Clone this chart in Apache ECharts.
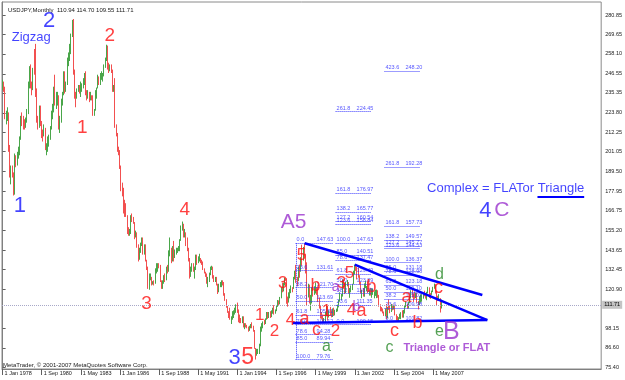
<!DOCTYPE html>
<html><head><meta charset="utf-8">
<script src="https://cdn.jsdelivr.net/npm/echarts@6/dist/echarts.min.js"></script>
<style>html,body{margin:0;padding:0;background:#fff}#c{width:625px;height:380px}</style>
</head><body><div id="c"></div>
<script>
// ---- monthly USDJPY, Jan 1978 .. Dec 2007 (one row per year) ----
const firstOpen = 240.5;
const closes = [
241.0,238.5,222.5,223.0,223.5,204.0,188.5,190.0,189.0,177.0,197.0,195.0,
200.5,201.5,209.5,221.5,219.5,217.5,217.0,220.5,224.0,240.0,249.5,240.0,
238.5,249.5,249.0,236.5,220.0,218.0,227.5,218.0,212.0,211.0,215.0,203.0,
205.5,206.0,210.0,215.0,224.5,225.0,238.0,231.0,231.5,233.0,215.5,219.5,
229.5,235.5,247.0,237.0,240.5,254.5,258.0,259.5,269.5,276.0,248.0,235.0,
233.5,237.5,239.5,237.5,239.0,240.5,241.5,246.5,236.5,234.0,235.0,232.0,
234.0,233.5,225.0,225.5,236.0,238.0,245.0,242.5,246.0,246.0,246.0,251.5,
255.0,259.5,251.5,251.0,251.5,248.5,237.0,237.5,216.5,211.5,202.0,200.5,
192.0,180.5,179.5,168.0,167.0,164.5,154.5,154.0,154.0,163.0,162.5,160.0,
153.5,153.5,146.5,140.5,144.5,147.0,150.0,142.0,146.5,138.0,133.0,122.0,
127.5,128.5,124.5,125.0,124.5,132.5,133.0,135.0,134.5,125.5,121.5,125.0,
128.5,127.0,133.0,132.5,143.0,144.0,137.5,145.0,139.0,142.5,143.5,143.5,
145.0,149.5,157.5,159.0,152.0,153.0,147.0,144.5,138.0,129.0,133.0,135.5,
131.5,133.0,140.5,136.5,138.0,138.5,137.0,136.5,132.5,130.5,130.0,125.0,
127.0,130.0,133.0,133.5,128.5,125.5,127.0,123.5,119.5,123.5,124.0,125.0,
124.5,118.0,115.0,111.0,107.0,106.5,104.5,104.5,106.0,108.0,109.0,111.8,
109.0,104.0,102.5,102.0,104.5,99.0,100.0,99.8,98.5,96.8,98.7,99.7,
99.5,96.8,86.5,84.0,84.5,84.8,88.2,97.3,99.8,101.8,101.6,103.4,
106.9,104.7,107.1,104.5,108.3,109.8,106.8,108.8,111.3,114.0,113.9,115.9,
121.2,120.4,124.0,126.8,116.1,114.6,118.4,120.7,120.9,120.4,127.6,130.4,
127.0,126.0,133.1,132.2,139.1,138.2,144.3,141.4,135.9,116.0,123.2,113.5,
116.2,119.1,119.0,119.4,121.3,121.1,114.6,110.2,106.0,104.3,102.1,102.2,
107.3,110.3,105.5,108.2,107.7,106.2,109.2,106.6,108.2,108.8,111.3,114.4,
116.3,117.3,126.3,123.8,118.8,124.6,125.0,118.8,119.4,122.4,123.9,131.0,
134.7,133.7,132.7,128.5,124.3,119.5,119.8,118.4,121.9,122.4,122.6,118.8,
119.9,117.7,118.2,118.9,119.4,119.8,120.1,116.8,111.5,109.9,109.5,107.2,
105.9,109.1,104.2,110.4,109.6,108.7,111.5,109.9,110.1,105.8,103.1,102.6,
103.7,104.6,107.2,105.0,108.3,110.9,112.5,111.9,113.5,116.4,119.9,117.8,
117.2,115.8,117.8,113.9,112.5,114.4,114.6,117.4,118.1,117.0,115.8,119.0,
120.7,118.5,117.8,119.6,121.7,123.1,118.6,115.8,114.8,115.3,110.94,111.71];
const highs = [
243,242,239,225,227,224,205,193,193,189,200,199,
201,204,210,222,224,222,220,221,226,242,251,252,
242,250,261,264,238,222,228,228,219,214,217,215,
206,210,211,216,225,229,239,246,236,236,234,222,
232,236,248,248,242,256,259,264,270,278,278.5,249,
236,238,240,240,242,241,244,247,248,237,237,236,
236,234,234,226,237,238.5,246,245,247,248,247,252,
256,263.5,263,253,252,252,249,240,244,217,212,204,
202,193,183,180,173,171,164,157,156,164,165,163,
160,155,154,147,145,148,151,151,147,147,138,134,
130,130,128,125.5,126,133,136,136,136,135,126,126,
129,130,134,135,143.5,151,145,146,149,144,145,145,
146,150,158,160.3,159,156,154,151,145,139,134,136,
136,134,141,141,140,141.5,139,138,137,133,131,130,
128,130.5,134,134.5,134,129,128,128,124,124,125,126,
126,125,118.5,115,111,108,110,105,108,108.5,110,112,
113,109,106,104,105,105,101,101,100,99,99.5,100.5,
101.5,99.5,97,86.5,86,86,89,99,101,102,103,103.8,
107.5,107.5,107.5,108,108.5,110,111.5,109,111.6,114.5,114.3,116.3,
122,124.6,124.5,127.5,127.2,116.5,119,121,123,122,128,131.6,
135,128,134,135.2,139.5,146.8,145.5,147.63,141.5,136.5,124,123.5,
117.5,122,123,122.5,124.8,122,122.5,116,111.5,107.5,106,104,
107.6,111.8,111,108.5,110.5,108.5,109.6,110,108.8,109.5,111.8,114.6,
119,118,126.5,126.6,124.5,125,126.2,125,121.5,123,124,131.6,
135.15,134.7,133.8,133.5,129,125,120.5,121.5,124.2,125.7,122.7,125.5,
120.3,121.6,121.3,121.2,119.6,120.5,120.6,120.2,117.5,112,110.4,109.6,
107.8,109.6,112.2,110.5,114.9,111.2,112.2,111.9,111.4,111.8,106.2,105.1,
104.5,106.5,107.4,108.5,108.7,111.2,113.7,112.3,113.6,116.5,120.2,121.4,
118.3,119.5,118.7,118.7,114,116.5,117.8,117.9,118.5,119.9,118.6,119.3,
122.2,121.9,118.5,120,122.2,124.1,123.7,119.8,117,117.9,115.6,114.7];
const lows = [
237,236,220,217,219,201,186,182,186,175.5,176,192,
193,197,199,208,216,214,214,215,218,223,238,238,
234,237,246,233,218,214,215,216,209,207,210,202,
199,201,204,208,214,220,224,228,226,228,214,212,
218,228,234,235,236,240,251,254,258,268,246,232,
227,232,236,235,233,236,238,240,234,231,232,230,
231,231,222,222,225,232,238,240,240,243,242,245,
250,254,249,247,248,247,236,236,215,210,201,199,
191,178,175,165,163,163,153,152,152,153,160,159,
150,151,145,137,138,142,146,141,141,137,132,121,
120.5,126,123,123.5,123,124,130,131,133,125,121,121,
124,125,126,130,131,140,136,137,137,139,141,142,
143,143,149,155,151,151,146,143,137,127,128,131,
131,127,132,135,136,137,136,135,132,130,128,124,
122,125,129,132,127,125,125,123,118,119,122,122,
123,117,114,110,107,104,103,100.5,103,104,106,107,
107,101.5,101,101,101,98.5,97.5,98.5,98,96,96.5,98,
98,96,86,79.75,82,83,83,87.5,96,98,100,100.5,
103,103.5,104,104,104.5,106.5,106,106.5,108,110.5,111,112,
115.5,119,119.5,123,112.3,110.6,113,115.5,118.5,119,121,126.5,
124.5,122.5,125.5,127.5,131,134.5,137.5,140.5,130,111.5,116,112.5,
108.3,112.5,116.5,117.5,118.3,117.5,113.3,109.5,103.7,103.5,101.25,101.4,
101.5,105,102.5,104.3,105.4,104.4,104.6,105.2,105.5,107.5,107.8,110.2,
113.5,114.5,116.5,121,118,118.5,122.5,118.3,115.8,119,120.3,123.7,
129.5,131.5,126.5,127.5,123.5,118.4,115.6,116.5,116.4,121.4,119.6,118.5,
117.1,117.1,115.8,117.5,115.5,116.9,115.6,115.8,110.6,107.9,107.8,106.7,
105.2,104.9,103.4,103.8,108.7,106.8,107.5,108.5,108.9,105.5,102.5,101.8,
101.7,103.5,103.3,104.2,104.2,106.6,110.2,109.4,109.5,112.8,115.4,115.9,
113.4,115.2,115.6,112.9,109,111.5,113,113.5,115.3,116.7,115.3,114.4,
118.4,115.8,115.2,117.5,119.1,121.1,118.3,111.6,113.9,113.9,107.2,109.55];

// ---- axis ticks ----
const xTickIdx = [0,32,64,96,128,160,192,224,256,288,320,352];
const xTickLabels = ['1 Jan 1978','1 Sep 1980','1 May 1983','1 Jan 1986','1 Sep 1988','1 May 1991','1 Jan 1994','1 Sep 1996','1 May 1999','1 Jan 2002','1 Sep 2004','1 May 2007'];
const yTicks = [280.85,269.65,258.10,246.55,235.35,223.80,212.25,201.05,189.50,177.95,166.75,155.20,143.65,132.45,120.90,98.15,86.60,75.40];
const lastPrice = 111.71;
const titleText = 'USDJPY,Monthly  110.94 114.70 109.55 111.71';
const footerText = 'MetaTrader, \u00a9 2001-2007 MetaQuotes Software Corp.';

// ---- Fibonacci tools: level %, price, and month-index span ----
const fib1Pct = ['0.0','23.6','38.2','50.0','61.8','70.0','78.6','85.0','100.0'];
const fib1Val = [147.63,131.61,121.70,113.69,105.61,100.12,94.28,89.94,79.76];
const fib1Span = [239.6,269.8];
const fib2Pct = ['0.0','23.6','38.2','50.0','61.8','78.6','85.0','100.0','123.6','127.2','138.2','161.8','261.8'];
const fib2Val = [100.15,111.35,118.29,123.89,129.49,137.47,140.51,147.63,158.84,160.54,165.77,176.97,224.45];
const fib2Span = [272.3,301.7];
const fib3Pct = ['0.0','23.6','38.2','50.0','61.8','78.6','85.0','100.0','123.6','127.2','138.2','161.8','261.8','423.6'];
const fib3Val = [101.82,109.98,115.02,119.10,123.18,128.98,131.18,136.37,144.53,145.77,149.57,157.73,192.28,248.20];
const fib3Span = [312.3,341.7];

// ---- trend lines (month index, price) ----
const trendUpper = [[247,147.63],[392.3,117.4]];
const trendMid = [[288,135.15],[396.4,102.8]];
const trendLower = [[237.1,101.1],[396.4,102.8]];
const underlineTriangle = [[437.4,174.6],[475.6,174.6]];

// ---- wave labels: [text, month index, price] ----
const blueBig = [['2',38.1,277.5],['1',14.2,169.6],['3',189.8,80.6],['4',394.8,166.7]];
const blueText = [['Zigzag',23.4,267.7],['Complex = FLATor Triangle',411.4,179.9]];
const redBig = [['2',87.7,268.6],['1',65.2,214.9],['4',148.9,167.0],['3',117.7,112.2]];
const redBottom = [['5',200.4,80.6]];
const redDigits = [['1',210.2,105.7],['2',222.4,96.4],['3',229,124.4],['4',235.5,102.8],['5',244.5,140.8],
  ['1',264.9,108.1],['2',272.3,96.4],['3',277.2,124.4],['5',283.7,130.3],['4',285.3,108.7]];
const redLetters = [['a',246.9,103.4],['b',255.9,122.7],['c',256.7,97.0],['a',293.5,108.1],['b',301.7,122.1],
  ['c',320.4,96.4],['a',330.2,116.3],['b',339.3,101.1],['c',356.4,121.5]];
const greenLetters = [['a',264.9,87.1],['c',316.4,86.5],['d',357.2,129.1],['e',357.2,95.8]];
const purpleSmall = [['a',272.3,122.1],['b',289.4,110.4]];
const purpleBig = [['A5',238,159.7],['C',408.2,166.7]];
const purpleB = [['B',367,95.8]];
const purpleText = [['Triangle or FLAT',363.3,86.8]];

// ---- build ----
const FONT = 'Liberation Sans';
const candles = closes.map((c,k)=>[k, k===0?firstOpen:closes[k-1], c, lows[k], highs[k]]);

function labelSeries(items, color, size, weight){
  return {type:'scatter', symbolSize:1, itemStyle:{color:'rgba(0,0,0,0)'}, silent:true, z:6,
    data: items.map(t=>({value:[t[1],t[2]], name:t[0]})),
    label:{show:true, position:'inside', formatter:p=>p.name, color:color, fontSize:size,
      fontWeight:weight||'normal', fontFamily:FONT}};
}
function fibSeries(pcts, vals, span){
  return {type:'scatter', symbolSize:1, itemStyle:{color:'rgba(0,0,0,0)'}, silent:true, z:4,
    data: vals.map((v,k)=>({value:[span[0],v], name:pcts[k]})),
    label:{show:true, position:'top', distance:0, align:'left', offset:[1,0],
      formatter:p=>'{p|'+p.name+'}{v|'+p.value[1].toFixed(2)+'}',
      rich:{p:{width:20,fontSize:5.5,color:'#2a2aff',fontFamily:FONT},v:{fontSize:5.5,color:'#2a2aff',fontFamily:FONT}}},
    markLine:{silent:true, symbol:'none', label:{show:false},
      lineStyle:{type:'dotted', color:'#3a3aff', width:1},
      data: vals.map(v=>[{coord:[span[0],v]},{coord:[span[1],v]}])}};
}
function trendSeries(pts, w){
  return {type:'line', data:pts, symbol:'none', silent:true, z:5,
    lineStyle:{color:'#0000ff', width:w}};
}

const fib1 = fibSeries(fib1Pct, fib1Val, fib1Span);
fib1.markLine.data.push([{coord:[fib1Span[0]+0.7,fib1Val[0]]},{coord:[fib1Span[0]+0.7,fib1Val[fib1Val.length-1]]}]);

const chart = echarts.init(document.getElementById('c'), null, {renderer:'canvas'});
chart.setOption({
  animation:false,
  backgroundColor:'#ffffff',
  textStyle:{fontFamily:FONT},
  title:{text:titleText, left:3, top:2, textStyle:{fontSize:6, fontWeight:'normal', color:'#202020', fontFamily:FONT}},
  graphic:[{type:'text', left:3, top:362, style:{text:footerText, fontSize:6, fill:'#202020', fontFamily:FONT}}],
  grid:{left:2, right:23, top:2, bottom:11, show:true, borderColor:'#8a8a8a', borderWidth:1, backgroundColor:'#ffffff'},
  xAxis:{type:'value', min:-0.5, max:489.5, position:'bottom',
    axisLine:{show:true, lineStyle:{color:'#808080'}},
    splitLine:{show:false},
    axisTick:{show:true, customValues:xTickIdx, length:6, lineStyle:{color:'#606060'}},
    axisLabel:{customValues:xTickIdx, formatter:v=>xTickLabels[xTickIdx.indexOf(Math.round(v))]||'',
      align:'left', fontSize:5.5, color:'#202020', margin:1, padding:[0,0,0,2]}},
  yAxis:{type:'value', min:74.24, max:288.44, position:'right', scale:true,
    axisLine:{show:true, lineStyle:{color:'#808080'}},
    splitLine:{show:false},
    axisTick:{show:true, customValues:yTicks, length:3, lineStyle:{color:'#606060'}},
    axisLabel:{customValues:yTicks, formatter:v=>v.toFixed(2), fontSize:5.5, color:'#202020', margin:4}},
  series:[
    {type:'candlestick', data:candles, encode:{x:0, y:[1,2,3,4]}, barWidth:1, z:3,
      itemStyle:{color:'#9ed09e', color0:'#f4a4a4', borderColor:'#4aa64a', borderColor0:'#f25050', borderWidth:1},
      markLine:{silent:true, symbol:'none', data:[{yAxis:lastPrice}],
        lineStyle:{type:'dotted', color:'#a8a8c8', width:1},
        label:{show:true, position:'end', distance:1, formatter:lastPrice.toFixed(2),
          backgroundColor:'#c4c4c4', color:'#000', fontSize:5.5, padding:[1,2,1,2]}}},
    fib1,
    fibSeries(fib2Pct, fib2Val, fib2Span),
    fibSeries(fib3Pct, fib3Val, fib3Span),
    trendSeries(trendUpper, 2.5),
    trendSeries(trendMid, 2.5),
    trendSeries(trendLower, 2.5),
    trendSeries(underlineTriangle, 2),
    labelSeries(blueBig, '#1414ff', 22),
    labelSeries(blueText, '#1414ff', 13),
    labelSeries(redBig, '#ff1010', 19),
    labelSeries(redBottom, '#ff1010', 23),
    labelSeries(redDigits, '#ff1010', 17),
    labelSeries(redLetters, '#ff1010', 18),
    labelSeries(greenLetters, '#2a8a2a', 16),
    labelSeries(purpleSmall, '#9a32cd', 14),
    labelSeries(purpleBig, '#9a32cd', 21),
    labelSeries(purpleB, '#9a32cd', 25),
    labelSeries(purpleText, '#9a32cd', 11, 'bold')
  ]
});
</script></body></html>
